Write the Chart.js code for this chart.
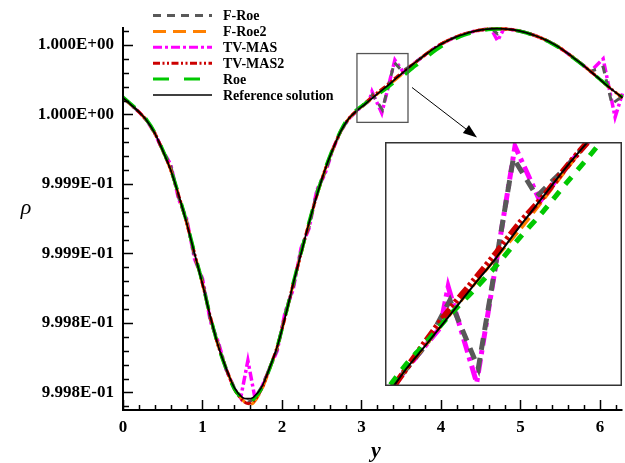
<!DOCTYPE html>
<html>
<head>
<meta charset="utf-8">
<script src="https://cdn.jsdelivr.net/npm/chart.js@4.4.1/dist/chart.umd.min.js"></script>
<style>
  html, body { margin: 0; padding: 0; background: #fff; }
  #wrap { position: relative; width: 625px; height: 463px; }
  #inset { position: absolute; left: 385px; top: 142px; width: 237px; height: 244px; background: #fff; }
</style>
</head>
<body>
<div id="wrap">
  <canvas id="main" width="625" height="463"></canvas>
  <div id="inset"><canvas id="zoom" width="237" height="244"></canvas></div>
</div>
<script>
// density values are stored as (rho - 1) * 1e6
const refX = [0, 0.1, 0.2, 0.3, 0.4, 0.5, 0.6, 0.7, 0.8, 0.9, 1.0, 1.1, 1.2, 1.3, 1.4, 1.5, 1.571, 1.64, 1.74, 1.84, 1.94, 2.04, 2.14, 2.24, 2.34, 2.44, 2.54, 2.64, 2.74, 2.84, 2.94, 3.04, 3.142, 3.24, 3.34, 3.44, 3.54, 3.64, 3.74, 3.84, 3.94, 4.04, 4.14, 4.24, 4.34, 4.44, 4.54, 4.64, 4.712, 4.78, 4.88, 4.98, 5.08, 5.18, 5.28, 5.38, 5.48, 5.58, 5.68, 5.78, 5.88, 5.98, 6.08, 6.18, 6.283];
const refD = [12, 7.0, 1.8, -4.5, -13.5, -26, -40, -58, -78, -100, -122, -145.7, -167, -183, -196.5, -203.5, -204.5, -203.5, -196.5, -183, -167, -145.7, -122, -100, -78, -58, -40, -25, -12, -3, 2.6, 7.2, 12, 16.6, 21.2, 26.2, 31, 35.8, 40.2, 44.5, 48.5, 51.8, 54.5, 56.8, 58.7, 60.1, 61.1, 61.6, 61.7, 61.6, 61.1, 60.1, 58.7, 56.8, 54.5, 51.8, 48.5, 44.5, 40.2, 35.8, 31, 26.2, 21.2, 16.6, 12];

const roeD = [12.5, 7.5, 2.3, -4, -13, -25.5, -39.5, -57.5, -77.5, -99.5, -121.5, -145.5, -167, -183.5, -197.5, -204.5, -207, -205, -197.5, -183.5, -167, -145.5, -121.5, -99.5, -77.5, -57.5, -39.5, -24.5, -11.5, -2, 3.4, 7.6, 12, 15.8, 19.9, 24.4, 28.6, 33.2, 37.6, 42.2, 46.5, 50.2, 53.3, 55.9, 58, 59.6, 60.7, 61.3, 61.5, 61.5, 61, 60, 58.6, 56.6, 54.3, 51.5, 48.2, 44.2, 40, 35.6, 30.8, 26.2, 21.4, 17, 12.5];

const froe2D = [12, 7.0, 1.8, -4.5, -13.5, -26, -40, -58, -78, -100, -122, -145.7, -167, -183, -197, -205, -208.5, -207.5, -198.5, -184, -167, -145.7, -122, -100, -78, -58, -40, -25, -12, -3, 2.6, 7.2, 12, 16.6, 21.2, 25.6, 30.4, 35.3, 40.2, 44.5, 48.5, 51.8, 54.5, 56.8, 58.7, 60.1, 61.1, 61.6, 61.7, 61.6, 61.1, 60.1, 58.7, 56.8, 54.5, 51.8, 48.5, 44.5, 40.2, 35.8, 31, 26.2, 21.2, 16.6, 12];

const tvmas2D = [12, 7.0, 1.8, -4.5, -13.5, -26, -40, -58, -78, -100, -122, -145.7, -167, -183, -197.5, -205.5, -208, -206.5, -198, -183, -167, -145.7, -122, -100, -78, -58, -40, -25, -12, -3, 2.6, 7.9, 13, 17.4, 22, 26.8, 31, 35.8, 40.2, 44.5, 48.5, 51.8, 54.5, 56.8, 58.7, 60.1, 61.1, 61.6, 61.7, 61.6, 61.1, 60.1, 58.7, 56.8, 54.5, 51.8, 48.5, 44.5, 40.2, 35.8, 31, 26.2, 21.2, 16.6, 12];

const froeX = [0, 0.1, 0.2, 0.3, 0.4, 0.5, 0.6, 0.7, 0.8, 0.9, 1.0, 1.1, 1.2, 1.3, 1.4, 1.5, 1.571, 1.64, 1.74, 1.84, 1.94, 2.04, 2.14, 2.24, 2.34, 2.44, 2.54, 2.64, 2.74, 2.84, 2.94, 3.04, 3.14, 3.262, 3.413, 3.514, 3.64, 3.74, 3.84, 3.94, 4.04, 4.14, 4.24, 4.34, 4.44, 4.54, 4.64, 4.712, 4.78, 4.88, 4.98, 5.08, 5.18, 5.28, 5.38, 5.48, 5.58, 5.68, 5.78, 5.88, 6.04, 6.15, 6.283];
const froeD = [12, 7.0, 1.8, -4.5, -13.5, -26, -37, -60, -76, -103, -119, -148, -165, -184, -196.5, -205, -207, -205, -196.5, -183, -169, -143, -125, -97, -81, -55, -42, -25, -12, -3, 2.6, 7.2, 14.3, 3.3, 37.3, 31.1, 35.8, 40.2, 44.5, 48.5, 51.8, 54.5, 56.8, 58.7, 60.1, 61.1, 61.6, 58, 61.4, 61.1, 60.1, 58.7, 56.8, 54.5, 51.8, 48.5, 44.5, 40.2, 35.8, 31, 34, 7.7, 13];

const tvmasX = [0, 0.1, 0.2, 0.3, 0.4, 0.5, 0.6, 0.7, 0.8, 0.9, 1.0, 1.1, 1.2, 1.3, 1.4, 1.48, 1.571, 1.66, 1.74, 1.84, 1.94, 2.04, 2.14, 2.24, 2.34, 2.44, 2.54, 2.64, 2.74, 2.84, 2.94, 3.04, 3.097, 3.132, 3.255, 3.42, 3.528, 3.64, 3.74, 3.84, 3.94, 4.04, 4.14, 4.24, 4.34, 4.44, 4.54, 4.63, 4.712, 4.79, 4.88, 4.98, 5.08, 5.18, 5.28, 5.38, 5.48, 5.58, 5.68, 5.78, 5.88, 6.04, 6.19, 6.283];
const tvmasD = [12, 7.0, 1.8, -4.5, -13.5, -26, -36, -61, -75, -104, -118, -149, -164, -184, -197, -204, -177, -204, -197, -183, -170, -142, -126, -96, -82, -54, -43, -25, -12, -3, 2.6, 7.2, 9.8, 16.5, 0.9, 39.2, 30.3, 35.8, 40.2, 44.5, 48.5, 51.8, 54.5, 56.8, 58.7, 60.1, 61.1, 61.6, 53, 61.5, 61.1, 60.1, 58.7, 56.8, 54.5, 51.8, 48.5, 44.5, 40.2, 35.8, 31, 40, -2, 15];

const xTickValues = [0, 1, 2, 3, 4, 5, 6];
const yTickValues = [0.9998, 0.99985, 0.9999, 0.99995, 1.0, 1.00005];
const yTickLabels = ['9.998E-01', '9.998E-01', '9.999E-01', '9.999E-01', '1.000E+00', '1.000E+00'];

// axis ranges
const xMin = 0, xMax = 6.2832;
const yMin = 0.9997874, yMax = 1.0000629;
// region shown in the zoom frame, and the marker box drawn on the main plot
const insetX = [2.86, 3.881];
const insetY = [1.0000004, 1.0000399];
const markX = [2.943, 3.585];
const markY = [0.9999943, 1.0000438];

function toPoints(xs, ds) {
    return xs.map((x, i) => ({ x: x, y: 1 + ds[i] * 1e-6 }));
}

const series = [
    { label: 'F-Roe', xs: froeX, ds: froeD, color: '#595959', w: 3, dash: [8, 6], iw: 5, idash: [12, 8], order: 4, tension: 0 },
    { label: 'F-Roe2', xs: refX, ds: froe2D, color: '#ff8000', w: 3, dash: [13, 7], iw: 3, idash: [13, 6], order: 3, tension: 0.3 },
    { label: 'TV-MAS', xs: tvmasX, ds: tvmasD, color: '#ff00ff', w: 3.5, dash: [9, 3, 3, 3], iw: 5, idash: [14, 5, 4, 5], order: 5, tension: 0 },
    { label: 'TV-MAS2', xs: refX, ds: tvmas2D, color: '#cc0000', w: 3, dash: [7, 2.5, 2, 2.5, 2, 2.5], iw: 6, idash: [12, 3, 3, 3, 3, 3], order: 2, tension: 0.3 },
    { label: 'Roe', xs: refX, ds: roeD, color: '#00c800', w: 3.5, dash: [16, 15], iw: 5, idash: [10, 9], order: 1, tension: 0.3 },
    { label: 'Reference solution', xs: refX, ds: refD, color: '#000000', w: 1.8, dash: [], iw: 2, idash: [], order: 0, tension: 0.3 }
];

function buildDatasets(inset) {
    return series.map(s => ({
        label: s.label,
        data: toPoints(s.xs, s.ds),
        borderColor: s.color,
        borderWidth: inset ? s.iw : s.w,
        borderDash: inset ? s.idash : s.dash,
        borderCapStyle: 'butt',
        pointRadius: 0,
        fill: false,
        tension: s.tension,
        order: s.order,
        clip: inset ? 0 : 2
    }));
}

const serif = '"Liberation Serif", "Times New Roman", serif';

const decorPlugin = {
    id: 'decor',
    afterDraw(chart) {
        const ctx = chart.ctx;
        const xs = chart.scales.x, ys = chart.scales.y;
        const a = chart.chartArea;
        ctx.save();

        // axis lines with inward ticks
        ctx.strokeStyle = '#000';
        ctx.lineWidth = 2;
        ctx.beginPath();
        ctx.moveTo(a.left, a.top);
        ctx.lineTo(a.left, a.bottom);
        ctx.lineTo(a.right, a.bottom);
        ctx.stroke();
        ctx.lineWidth = 1.5;
        ctx.beginPath();
        for (let k = 0; k <= 31; k++) {
            const v = k * 0.2;
            const px = Math.round(xs.getPixelForValue(v)) + 0.5;
            ctx.moveTo(px, a.bottom);
            ctx.lineTo(px, a.bottom - (k % 5 === 0 ? 10 : 5));
        }
        for (let k = -21; k <= 6; k++) {
            const py = Math.round(ys.getPixelForValue(1 + k * 1e-5)) + 0.5;
            ctx.moveTo(a.left, py);
            ctx.lineTo(a.left + (k % 5 === 0 ? 10 : 6), py);
        }
        ctx.stroke();

        // marker box and arrow to the zoom frame
        const bx0 = xs.getPixelForValue(markX[0]), bx1 = xs.getPixelForValue(markX[1]);
        const by0 = ys.getPixelForValue(markY[1]), by1 = ys.getPixelForValue(markY[0]);
        ctx.strokeStyle = '#555';
        ctx.lineWidth = 1.3;
        ctx.strokeRect(bx0, by0, bx1 - bx0, by1 - by0);

        const sx = bx1 + 4, sy = ys.getPixelForValue(1 + 19.4e-6);
        const ex = 477, ey = 137.5;
        const ang = Math.atan2(ey - sy, ex - sx);
        ctx.strokeStyle = '#000';
        ctx.fillStyle = '#000';
        ctx.lineWidth = 1;
        ctx.beginPath();
        ctx.moveTo(sx, sy);
        ctx.lineTo(ex - 12 * Math.cos(ang), ey - 12 * Math.sin(ang));
        ctx.stroke();
        ctx.beginPath();
        ctx.moveTo(ex, ey);
        ctx.lineTo(ex - 14 * Math.cos(ang) + 5 * Math.sin(ang), ey - 14 * Math.sin(ang) - 5 * Math.cos(ang));
        ctx.lineTo(ex - 14 * Math.cos(ang) - 5 * Math.sin(ang), ey - 14 * Math.sin(ang) + 5 * Math.cos(ang));
        ctx.closePath();
        ctx.fill();

        // axis titles
        ctx.fillStyle = '#000';
        ctx.textAlign = 'center';
        ctx.textBaseline = 'alphabetic';
        ctx.font = 'italic 22px ' + serif;
        ctx.fillText('ρ', 26, 214);
        ctx.font = 'italic bold 22px ' + serif;
        ctx.fillText('y', 376, 457);

        // legend
        ctx.font = 'bold 14px ' + serif;
        ctx.textAlign = 'left';
        ctx.textBaseline = 'middle';
        series.forEach((s, i) => {
            const ry = 15.5 + i * 15.9;
            ctx.strokeStyle = s.color;
            ctx.lineWidth = s.w === 1.8 ? 1.5 : 3;
            ctx.setLineDash(s.dash);
            ctx.beginPath();
            ctx.moveTo(153, ry);
            ctx.lineTo(212, ry);
            ctx.stroke();
            ctx.setLineDash([]);
            ctx.fillStyle = '#000';
            ctx.fillText(s.label, 223, ry + 1);
        });
        ctx.restore();
    }
};

new Chart(document.getElementById('main'), {
    type: 'line',
    data: { datasets: buildDatasets(false) },
    options: {
        responsive: false,
        animation: false,
        events: [],
        layout: { padding: { top: 27, right: 2.5, left: 0, bottom: 0 } },
        plugins: { legend: { display: false }, tooltip: { enabled: false } },
        scales: {
            x: {
                type: 'linear',
                min: xMin,
                max: xMax,
                afterFit: s => { s.height = 53; },
                afterBuildTicks: s => { s.ticks = xTickValues.map(v => ({ value: v })); },
                grid: { display: false, drawTicks: false },
                border: { display: false },
                ticks: { padding: 7, color: '#000', maxRotation: 0, font: { family: serif, size: 17, weight: 'bold' } }
            },
            y: {
                type: 'linear',
                min: yMin,
                max: yMax,
                afterFit: s => { s.width = 123; },
                afterBuildTicks: s => { s.ticks = yTickValues.map(v => ({ value: v })); },
                grid: { display: false, drawTicks: false },
                border: { display: false },
                ticks: {
                    padding: 9,
                    color: '#000',
                    font: { family: serif, size: 17, weight: 'bold' },
                    callback: (v, i) => yTickLabels[i]
                }
            }
        }
    },
    plugins: [decorPlugin]
});

const frameBorder = {
    id: 'frameBorder',
    afterDraw(chart) {
        const ctx = chart.ctx;
        ctx.save();
        ctx.strokeStyle = '#333';
        ctx.lineWidth = 1.5;
        ctx.strokeRect(0.75, 0.75, chart.width - 1.5, chart.height - 1.5);
        ctx.restore();
    }
};

new Chart(document.getElementById('zoom'), {
    type: 'line',
    data: { datasets: buildDatasets(true) },
    options: {
        responsive: false,
        animation: false,
        events: [],
        layout: { padding: 0 },
        plugins: { legend: { display: false }, tooltip: { enabled: false } },
        scales: {
            x: { type: 'linear', display: false, min: insetX[0], max: insetX[1] },
            y: { type: 'linear', display: false, min: insetY[0], max: insetY[1] }
        }
    },
    plugins: [frameBorder]
});
</script>
</body>
</html>
